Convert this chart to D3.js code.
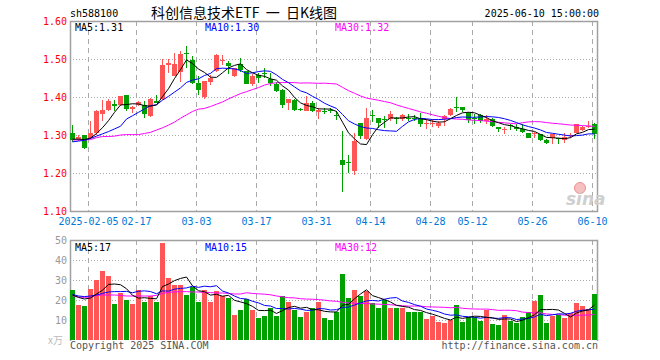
<!DOCTYPE html>
<html><head><meta charset="utf-8">
<script src="https://cdn.jsdelivr.net/npm/d3@7"></script>
<style>
body{margin:0;background:#fff}
svg{display:block}
text{font-family:"DejaVu Sans Mono","Liberation Mono",monospace;font-size:10px}
</style>
</head><body>
<svg id="c" width="660" height="360"></svg>
<script>
const dates = ["01-23","01-24","01-27","02-05","02-06","02-07","02-10","02-11","02-12","02-13","02-14","02-17","02-18","02-19","02-20","02-21","02-24","02-25","02-26","02-27","02-28","03-03","03-04","03-05","03-06","03-07","03-10","03-11","03-12","03-13","03-14","03-17","03-18","03-19","03-20","03-21","03-24","03-25","03-26","03-27","03-28","03-31","04-01","04-02","04-03","04-07","04-08","04-09","04-10","04-11","04-14","04-15","04-16","04-17","04-18","04-21","04-22","04-23","04-24","04-25","04-28","04-29","04-30","05-06","05-07","05-08","05-09","05-12","05-13","05-14","05-15","05-16","05-19","05-20","05-21","05-22","05-23","05-26","05-27","05-28","05-29","05-30","06-03","06-04","06-05","06-06","06-09","06-10"];
const openP  = [1.305,1.289,1.300,1.291,1.306,1.354,1.365,1.382,1.378,1.404,1.369,1.378,1.378,1.350,1.389,1.395,1.485,1.456,1.465,1.515,1.497,1.438,1.400,1.440,1.468,1.496,1.490,1.455,1.488,1.468,1.435,1.458,1.464,1.448,1.434,1.418,1.383,1.393,1.368,1.363,1.385,1.360,1.364,1.366,1.353,1.234,1.229,1.205,1.331,1.290,1.353,1.345,1.342,1.341,1.344,1.341,1.346,1.346,1.341,1.331,1.331,1.324,1.341,1.352,1.375,1.374,1.357,1.344,1.352,1.337,1.341,1.322,1.316,1.326,1.322,1.317,1.306,1.303,1.302,1.286,1.293,1.293,1.287,1.299,1.306,1.313,1.322,1.330];
const closeP = [1.288,1.296,1.267,1.305,1.363,1.365,1.389,1.376,1.402,1.369,1.375,1.386,1.354,1.395,1.385,1.485,1.490,1.488,1.512,1.513,1.437,1.418,1.443,1.450,1.510,1.498,1.482,1.476,1.470,1.435,1.455,1.450,1.462,1.437,1.417,1.380,1.395,1.365,1.366,1.383,1.363,1.367,1.363,1.365,1.352,1.222,1.227,1.283,1.298,1.344,1.352,1.332,1.341,1.356,1.343,1.352,1.345,1.345,1.328,1.332,1.332,1.332,1.350,1.369,1.374,1.367,1.339,1.343,1.337,1.343,1.324,1.315,1.317,1.325,1.317,1.308,1.293,1.304,1.286,1.278,1.302,1.289,1.296,1.300,1.328,1.322,1.325,1.302];
const highP  = [1.326,1.300,1.300,1.337,1.365,1.391,1.394,1.393,1.402,1.404,1.376,1.389,1.389,1.398,1.404,1.500,1.500,1.516,1.520,1.535,1.508,1.454,1.443,1.458,1.512,1.510,1.494,1.476,1.503,1.468,1.460,1.464,1.476,1.463,1.440,1.420,1.395,1.395,1.372,1.402,1.389,1.370,1.370,1.370,1.362,1.310,1.247,1.306,1.331,1.370,1.365,1.345,1.350,1.363,1.348,1.354,1.354,1.352,1.358,1.341,1.341,1.337,1.352,1.372,1.400,1.374,1.360,1.354,1.354,1.352,1.345,1.322,1.322,1.328,1.328,1.328,1.306,1.308,1.302,1.290,1.302,1.293,1.304,1.304,1.328,1.325,1.337,1.332];
const lowP   = [1.282,1.284,1.262,1.289,1.300,1.337,1.362,1.362,1.376,1.363,1.357,1.376,1.345,1.348,1.384,1.393,1.463,1.455,1.440,1.476,1.435,1.405,1.395,1.432,1.466,1.485,1.460,1.453,1.467,1.435,1.430,1.437,1.450,1.428,1.413,1.372,1.367,1.363,1.363,1.362,1.360,1.343,1.356,1.358,1.339,1.151,1.200,1.194,1.290,1.287,1.334,1.319,1.319,1.337,1.330,1.337,1.337,1.336,1.322,1.315,1.322,1.319,1.324,1.350,1.360,1.360,1.332,1.328,1.332,1.330,1.322,1.308,1.303,1.313,1.310,1.304,1.291,1.291,1.284,1.276,1.276,1.276,1.280,1.293,1.304,1.310,1.319,1.289];
const volume = [25,17.5,17,25.5,30,34.5,32,18,23.7,20,18,25,19,22,19,48.7,31.2,27.5,27.5,22.5,26.7,19,25,19,24.5,22,21.2,12.5,15,20.3,15,11.2,12,16.2,12,22,19,15,11.5,14.2,16,19,11,10,14,33,21,25,22,24.5,18.5,16,20,16,16,16,14,14,14,10.5,12,9,8.5,10,17.5,9,11.5,11.5,9.5,15,8,7.5,12.5,9.5,8.5,11.5,14,19.5,22.5,8.5,12,12.5,11,13.5,18.5,17,15.5,23];
// moving-average values before a full window is available inside the chart
const ma5Head  = [1.289,1.289,1.288,1.292];
const ma10Head = [1.282,1.284,1.286,1.291,1.297,1.303,1.309,1.316,1.323];
const ma30Head = [1.287,1.287,1.287,1.288,1.293,1.296,1.296,1.297,1.300,1.301,1.301,1.301,1.304,1.307,1.313,1.319,1.326,1.334,1.344,1.353,1.362,1.368,1.370,1.375,1.381,1.387,1.395,1.402,1.409];
const vma5Head  = [22.5,21.3,20.5,21];
const vma10Head = [22.8,22,21.7,22,22.5,23.3,24,24.2,24.2];
const vma30Head = [22,21.5,21.3,21.5,22.3,22.5,22.5,22.5,22.3,22,22,22,22,22,22.3,23.3,23.8,24,24.2,24.2,24,24,23.8,23.7,23.5,23.5,23.3,23,23];
const tickDates  = ["02-05","02-17","03-03","03-17","03-31","04-14","04-28","05-12","05-26","06-10"];
const tickLabels = ["2025-02-05","02-17","03-03","03-17","03-31","04-14","04-28","05-12","05-26","06-10"];
const priceTicks = [1.10,1.20,1.30,1.40,1.50,1.60];
const volTicks   = [10,20,30,40,50];
const priceLegend = [["MA5:1.31","#000"],["MA10:1.30","#0000ff"],["MA30:1.32","#ff00ff"]];
const volLegend   = [["MA5:17","#000"],["MA10:15","#0000ff"],["MA30:12","#ff00ff"]];

const UP="#ff5555", DOWN="#00a000", GRID="#aaaaaa", FRAME="#a0a0a0";
const svg = d3.select("#c");
svg.append("rect").attr("width",660).attr("height",360).attr("fill","#fff");

const x  = d3.scaleBand().domain(dates).range([70,598]).padding(0);
const yP = d3.scaleLinear().domain([1.10,1.60]).range([211,21]);
const yV = d3.scaleLinear().domain([0,50]).range([340,240]);
const idx = d3.range(dates.length);
const cx = i => x(dates[i]) + 2.5;

function rolling(vals, n, head){
  return vals.map((v,i)=> i < n-1 ? head[i] : d3.mean(vals.slice(i-n+1,i+1)));
}
const ma5=rolling(closeP,5,ma5Head), ma10=rolling(closeP,10,ma10Head), ma30=rolling(closeP,30,ma30Head);
const vma5=rolling(volume,5,vma5Head), vma10=rolling(volume,10,vma10Head), vma30=rolling(volume,30,vma30Head);

// title
svg.append("text").attr("x",70).attr("y",17).text("sh588100");
svg.append("text").attr("x",151).attr("y",18).style("font-family","'Noto Sans CJK SC',sans-serif").style("font-size","14px").style("white-space","pre").text("科创信息技术ETF  一  日K线图");
svg.append("text").attr("x",599).attr("y",17).attr("text-anchor","end").text("2025-06-10 15:00:00");

// grids
const grid = svg.append("g");
grid.selectAll("line.hp").data(priceTicks.slice(1,-1)).join("line")
  .attr("x1",70).attr("x2",598).attr("y1",d=>Math.round(yP(d))+0.5).attr("y2",d=>Math.round(yP(d))+0.5)
  .attr("stroke",GRID).attr("stroke-dasharray","1,2");
grid.selectAll("line.hv").data(volTicks.slice(0,-1)).join("line")
  .attr("x1",70).attr("x2",598).attr("y1",d=>yV(d)+0.5).attr("y2",d=>yV(d)+0.5)
  .attr("stroke",GRID).attr("stroke-dasharray","1,2");
grid.selectAll("line.vp").data(tickDates).join("line")
  .attr("x1",d=>x(d)+0.5).attr("x2",d=>x(d)+0.5).attr("y1",21).attr("y2",211)
  .attr("stroke",GRID).attr("stroke-dasharray","5,4");
grid.selectAll("line.vv").data(tickDates).join("line")
  .attr("x1",d=>x(d)+0.5).attr("x2",d=>x(d)+0.5).attr("y1",240).attr("y2",340)
  .attr("stroke",GRID).attr("stroke-dasharray","5,4");

// frames
svg.append("rect").attr("x",70.5).attr("y",21.5).attr("width",527).attr("height",190)
  .attr("fill","none").attr("stroke",FRAME).attr("stroke-width",1.5);
svg.append("path").attr("d","M70.5,341V240.5H597.5V341").attr("fill","none").attr("stroke",FRAME).attr("stroke-width",1.5);

// axis labels
svg.append("g").selectAll("text").data(priceTicks).join("text")
  .attr("x",67).attr("y",d=>yP(d)+4).attr("text-anchor","end").attr("fill","#ff0000")
  .text(d=>d3.format(".2f")(d));
svg.append("g").selectAll("text").data(volTicks).join("text")
  .attr("x",67).attr("y",d=>yV(d)+4).attr("text-anchor","end").attr("fill","#999")
  .text(d=>d);
svg.append("text").attr("x",48).attr("y",344).attr("fill","#bbb").style("font-family","'Noto Sans CJK SC',sans-serif").text("x万");
svg.append("g").selectAll("text").data(tickDates).join("text")
  .attr("x",d=>x(d)+0.5).attr("y",225).attr("text-anchor","middle").attr("fill","#0078d7")
  .text((d,i)=>tickLabels[i]);

// sina logo
const logo = svg.append("g");
logo.append("circle").attr("cx",580).attr("cy",188).attr("r",5.5).attr("fill","#f6c0c0").attr("stroke","#ee8f8f");
logo.append("text").attr("x",566).attr("y",205).style("font-family","'DejaVu Sans',sans-serif").style("font-size","17px").style("font-style","italic").style("font-weight","bold").attr("fill","#cfcfcf").text("sina");

// candles
const cg = svg.append("g").attr("shape-rendering","crispEdges");
cg.selectAll("line").data(idx).join("line")
  .attr("x1",cx).attr("x2",cx).attr("y1",i=>yP(highP[i])).attr("y2",i=>yP(lowP[i]))
  .attr("stroke",i=>closeP[i]>=openP[i]?UP:DOWN);
cg.selectAll("rect").data(idx).join("rect")
  .attr("x",i=>x(dates[i])).attr("width",5)
  .attr("y",i=>yP(Math.max(openP[i],closeP[i])))
  .attr("height",i=>Math.max(1,Math.abs(yP(openP[i])-yP(closeP[i]))))
  .attr("fill",i=>closeP[i]>=openP[i]?UP:DOWN);

// volume bars
svg.append("g").attr("shape-rendering","crispEdges").selectAll("rect").data(idx).join("rect")
  .attr("x",i=>x(dates[i])).attr("width",5)
  .attr("y",i=>yV(volume[i])).attr("height",i=>yV(0)-yV(volume[i]))
  .attr("fill",i=>closeP[i]>=openP[i]?UP:DOWN);

// MA lines
function maLine(vals, y, color){
  svg.append("path").datum(idx)
    .attr("d", d3.line().x(cx).y(i=>y(vals[i])))
    .attr("fill","none").attr("stroke",color).attr("stroke-width",1);
}
maLine(ma30,yP,"#ff00ff"); maLine(ma10,yP,"#0000ff"); maLine(ma5,yP,"#000");
maLine(vma30,yV,"#ff00ff"); maLine(vma10,yV,"#0000ff"); maLine(vma5,yV,"#000");

// legends
const legX=[75,205,335];
svg.append("g").selectAll("text").data(priceLegend).join("text")
  .attr("x",(d,i)=>legX[i]).attr("y",31).attr("fill",d=>d[1]).text(d=>d[0]);
svg.append("g").selectAll("text").data(volLegend).join("text")
  .attr("x",(d,i)=>legX[i]).attr("y",251).attr("fill",d=>d[1]).text(d=>d[0]);

// footer
svg.append("text").attr("x",70).attr("y",349).attr("fill","#555").text("Copyright 2025 SINA.COM");
svg.append("text").attr("x",598).attr("y",349).attr("text-anchor","end").attr("fill","#555").text("http://finance.sina.com.cn");
</script>
</body></html>
